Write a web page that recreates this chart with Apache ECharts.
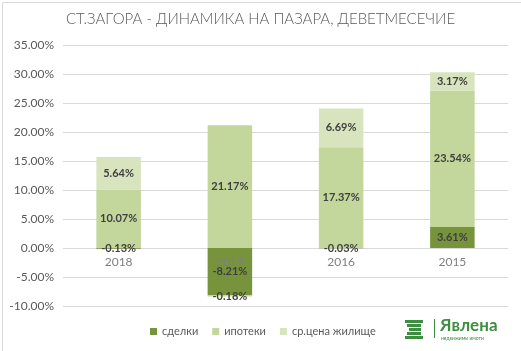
<!DOCTYPE html>
<html>
<head>
<meta charset="utf-8">
<script src="https://cdn.jsdelivr.net/npm/echarts@6/dist/echarts.min.js"></script>
<style>
html, body { margin: 0; padding: 0; background: #fff; }
#chart { width: 521px; height: 351px; }
</style>
</head>
<body>
<div id="chart"></div>
<script>
// данни
var years = ['2018', '2017', '2016', '2015'];
var deals = [-0.13, -8.21, -0.03, 3.61];      // сделки
var mortgages = [10.07, 21.17, 17.37, 23.54]; // ипотеки
var price = [5.64, -0.18, 6.69, 3.17];        // ср.цена жилище
var seriesNames = ['сделки', 'ипотеки', 'ср.цена жилище'];
var colors = ['#77933C', '#C3D69B', '#D7E4BD'];

var font = 'Lato, "Open Sans", sans-serif';

function pct(p) {
	return p.value.toFixed(2) + '%';
}

function makeSeries(name, data, color, labelColor) {
	return {
		name: name,
		type: 'bar',
		stack: 'all',
		barWidth: '40%',
		data: data,
		itemStyle: { color: color },
		label: {
			show: true,
			position: 'inside',
			formatter: pct,
			color: labelColor,
			fontSize: 11,
			fontWeight: 'bold',
			fontFamily: font
		}
	};
}

var option = {
	backgroundColor: '#fff',
	animation: false,
	color: colors,
	title: {
		text: 'СТ.ЗАГОРА - ДИНАМИКА НА ПАЗАРА, ДЕВЕТМЕСЕЧИЕ',
		left: 'center',
		top: 7,
		textStyle: { color: '#595959', fontSize: 15, fontWeight: 300, fontFamily: font }
	},
	legend: {
		bottom: 9,
		left: 145,
		itemWidth: 7,
		itemHeight: 7,
		itemGap: 14,
		icon: 'rect',
		textStyle: { color: '#595959', fontSize: 11, fontFamily: font },
		data: seriesNames
	},
	grid: { left: 63, right: 13, top: 45, bottom: 45, containLabel: false },
	xAxis: {
		type: 'category',
		data: years,
		offset: -58, // ос на нулата
		z: 3,        // годините над стълбовете
		axisLine: { show: false },
		axisTick: { show: false },
		axisLabel: { color: '#7F7F7F', fontSize: 12, fontFamily: font, margin: 8 }
	},
	yAxis: {
		type: 'value',
		min: -10,
		max: 35,
		interval: 5,
		axisLine: { show: false },
		axisTick: { show: false },
		splitLine: { lineStyle: { color: '#D9D9D9' } },
		axisLabel: {
			color: '#595959',
			fontSize: 12,
			fontFamily: font,
			margin: 9,
			formatter: function (v) { return v.toFixed(2) + '%'; }
		}
	},
	series: [
		makeSeries(seriesNames[0], deals, colors[0], '#3F3F3F'),
		makeSeries(seriesNames[1], mortgages, colors[1], '#404040'),
		makeSeries(seriesNames[2], price, colors[2], '#404040')
	],
	graphic: [
		{ type: 'rect', left: 0, top: 0, shape: { width: 520, height: 350 }, style: { fill: 'none', stroke: '#D9D9D9', lineWidth: 1 }, silent: true },
		// лого
		{ type: 'rect', left: 405, top: 320, shape: { width: 18, height: 3 }, style: { fill: '#3E8E41' } },
		{ type: 'rect', left: 407, top: 324, shape: { width: 14, height: 3 }, style: { fill: '#3E8E41' } },
		{ type: 'rect', left: 409, top: 328, shape: { width: 12, height: 3 }, style: { fill: '#3E8E41' } },
		{ type: 'rect', left: 407, top: 332, shape: { width: 14, height: 3 }, style: { fill: '#3E8E41' } },
		{ type: 'rect', left: 405, top: 336, shape: { width: 18, height: 3 }, style: { fill: '#3E8E41' } },
		{ type: 'rect', left: 434, top: 319, shape: { width: 1, height: 19 }, style: { fill: '#3E8E41' } },
		{ type: 'text', left: 440, top: 317, style: { text: 'Явлена', fill: '#3E8E41', font: 'bold 17px ' + font } },
		{ type: 'text', left: 441, top: 336, style: { text: 'недвижими имоти', fill: '#3E8E41', font: '5px ' + font } }
	]
};

var myChart = echarts.init(document.getElementById('chart'));
myChart.setOption(option);
</script>
</body>
</html>
